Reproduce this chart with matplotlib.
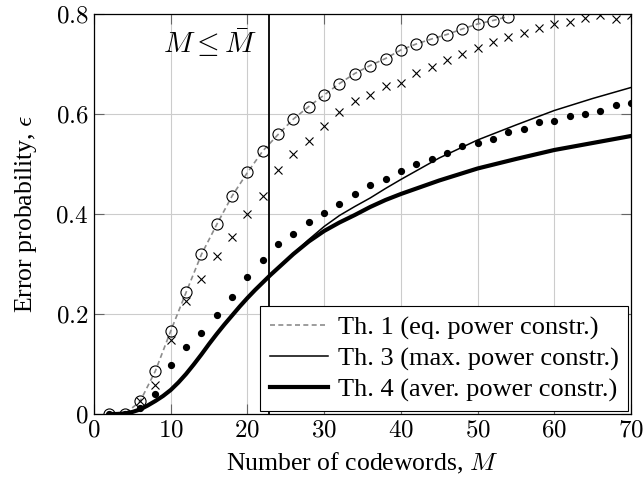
import matplotlib
matplotlib.use("Agg")
import matplotlib.pyplot as plt
from matplotlib.ticker import FuncFormatter
from matplotlib.lines import Line2D

plt.rcParams["font.family"] = ["Liberation Serif", "DejaVu Serif"]
plt.rcParams["mathtext.fontset"] = "cm"

# Th. 1 (eq. power) curve and circle markers
m_th1 = list(range(2, 56, 2))
eps_th1 = [0.0, 0.0, 0.025, 0.086, 0.166, 0.243, 0.319, 0.379, 0.436, 0.483,
           0.526, 0.559, 0.590, 0.615, 0.638, 0.661, 0.681, 0.697, 0.711, 0.728,
           0.740, 0.750, 0.759, 0.770, 0.780, 0.787, 0.795]

# crosses
m_cross = list(range(6, 72, 2))
eps_cross = [0.025, 0.058, 0.147, 0.225, 0.269, 0.315, 0.353, 0.399, 0.435, 0.488,
             0.520, 0.545, 0.576, 0.605, 0.626, 0.639, 0.656, 0.663, 0.683, 0.695,
             0.708, 0.721, 0.733, 0.745, 0.755, 0.763, 0.773, 0.780, 0.785, 0.793,
             0.799, 0.791, 0.798]

# dots
m_dot = list(range(2, 72, 2))
eps_dot = [0.0, 0.0, 0.011, 0.040, 0.098, 0.133, 0.161, 0.198, 0.233, 0.273,
           0.307, 0.339, 0.359, 0.384, 0.401, 0.420, 0.440, 0.458, 0.469, 0.486,
           0.499, 0.510, 0.521, 0.535, 0.541, 0.549, 0.564, 0.569, 0.583, 0.585,
           0.595, 0.601, 0.606, 0.618, 0.623]

# Th. 3 (max. power) and Th. 4 (aver. power)
m_curve = [2, 3, 4, 5, 6, 7, 8, 9, 10, 11, 12, 13, 14, 15, 16, 17, 18, 19, 20,
           21, 22, 23, 24, 26, 28, 30, 32, 34, 36, 38, 40, 45, 50, 55, 60, 65, 70]
eps_th3 = [0.0, 0.0, 0.001, 0.004, 0.009, 0.017, 0.026, 0.036, 0.048, 0.063,
           0.080, 0.099, 0.119, 0.140, 0.160, 0.179, 0.197, 0.215, 0.232, 0.248,
           0.263, 0.278, 0.292, 0.321, 0.349, 0.375, 0.397, 0.415, 0.432, 0.451,
           0.469, 0.512, 0.548, 0.578, 0.607, 0.631, 0.653]
eps_th4 = [0.0, 0.0, 0.001, 0.004, 0.009, 0.017, 0.026, 0.036, 0.048, 0.063,
           0.080, 0.099, 0.119, 0.140, 0.160, 0.179, 0.197, 0.215, 0.232, 0.248,
           0.263, 0.278, 0.292, 0.320, 0.345, 0.366, 0.383, 0.398, 0.414, 0.428,
           0.440, 0.467, 0.491, 0.510, 0.528, 0.542, 0.556]

m_bar = 22.85

fig = plt.figure(figsize=(6.43, 4.83), dpi=100)
ax = fig.add_axes([0.1462, 0.1429, 0.8351, 0.8281])

ax.grid(True, color="0.8", linewidth=0.8)
ax.set_axisbelow(True)

ax.plot(m_th1, eps_th1, color="0.55", linestyle=(0, (3, 2)), linewidth=1.2,
        zorder=3)
ax.plot(m_th1, eps_th1, linestyle="none", marker="o", markersize=8,
        markerfacecolor="none", markeredgecolor="black", markeredgewidth=0.8,
        zorder=4)
ax.plot(m_cross, eps_cross, linestyle="none", marker="x", markersize=6,
        color="black", markeredgewidth=0.8, zorder=4)
ax.plot(m_dot, eps_dot, linestyle="none", marker="o", markersize=4.2,
        color="black", zorder=4)
ax.plot(m_curve, eps_th3, color="black", linewidth=1.1, zorder=3)
ax.plot(m_curve, eps_th4, color="black", linewidth=3.0, zorder=3)
ax.axvline(m_bar, color="black", linewidth=1.3, zorder=5)

ax.text(21.2, 0.742, r"$M \leq \bar{M}$", ha="right", va="center", fontsize=21)

ax.set_xlim(0, 70)
ax.set_ylim(0, 0.8)
ax.set_xticks(range(0, 71, 10))
ax.set_yticks([0, 0.2, 0.4, 0.6, 0.8])
ax.xaxis.set_major_formatter(FuncFormatter(lambda v, p: f"${v:g}$"))
ax.yaxis.set_major_formatter(FuncFormatter(lambda v, p: f"${v:g}$"))
ax.tick_params(direction="in", length=7, width=0.8, color="0.4",
               top=True, right=True, labelsize=18, pad=4)
for s in ax.spines.values():
    s.set_linewidth(0.9)

ax.set_xlabel(r"Number of codewords, $M$", fontsize=18.5, labelpad=7)
ax.set_ylabel(r"Error probability, $\epsilon$", fontsize=18.5, labelpad=12)

handles = [
    Line2D([], [], color="0.55", linestyle=(0, (3, 2)), linewidth=1.2),
    Line2D([], [], color="black", linewidth=1.1),
    Line2D([], [], color="black", linewidth=3.0),
]
labels = ["Th. 1 (eq. power constr.)", "Th. 3 (max. power constr.)",
          "Th. 4 (aver. power constr.)"]
leg = ax.legend(handles, labels, loc="lower right", fontsize=19,
                fancybox=False, framealpha=1, edgecolor="black",
                borderaxespad=0.1, handlelength=2.2, handletextpad=0.4,
                labelspacing=0.28, borderpad=0.35)
leg.get_frame().set_linewidth(0.8)
leg.set_zorder(10)

fig.savefig("out.png", dpi=100)
